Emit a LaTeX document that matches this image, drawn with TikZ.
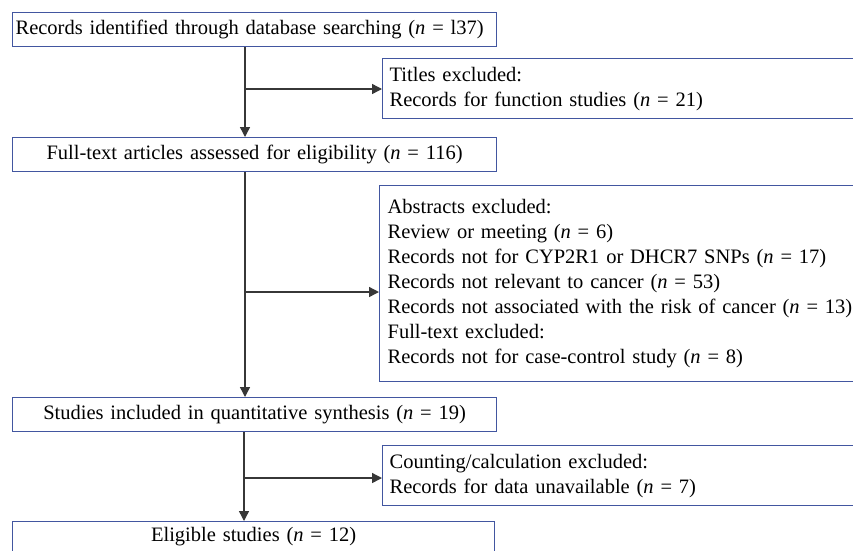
\documentclass[tikz,border=0pt]{standalone}
\usepackage{fontspec}
\setmainfont{Liberation Serif}
\usetikzlibrary{arrows.meta}
\definecolor{boxblue}{RGB}{66,86,160}
\definecolor{linegray}{RGB}{55,55,55}
\newcommand{\mysize}{\fontsize{20.5}{25}\selectfont}
\tikzset{
  lbox/.style={draw=boxblue, line width=1.2pt, rectangle, inner xsep=3pt, inner ysep=0pt,
    text width=478pt, minimum height=34pt, anchor=north west, font=\mysize, align=center},
  rbox/.style={draw=boxblue, line width=1.2pt, rectangle, inner xsep=7pt, inner ysep=0pt,
    text width=490pt, anchor=north west, font=\mysize, align=left},
  conn/.style={draw=linegray, line width=1.4pt},
  arr/.style={conn, -{Triangle[length=10pt,width=10pt]}}
}
\begin{document}
\begin{tikzpicture}[x=1pt,y=-1pt]
\useasboundingbox (0,0) rectangle (853,550);
\clip (0,0) rectangle (853,550);
\fill[white] (0,0) rectangle (853,550);

\node[lbox, align=left] (b1) at (12,12) {Records identified through database searching (\textit{n} = l37)};
\node[rbox, minimum height=60pt] (ti) at (382,58) {Titles excluded:\\Records for function studies (\textit{n} = 21)};
\node[lbox] (b2) at (12,137) {Full-text articles assessed for eligibility (\textit{n} = 116)};
\node[rbox, inner xsep=8pt, minimum height=196pt] (ab) at (379,185) {Abstracts excluded:\\Review or meeting (\textit{n} = 6)\\Records not for CYP2R1 or DHCR7 SNPs (\textit{n} = 17)\\Records not relevant to cancer (\textit{n} = 53)\\Records not associated with the risk of cancer (\textit{n} = 13)\\Full-text excluded:\\Records not for case-control study (\textit{n} = 8)};
\node[lbox] (b3) at (12,397) {Studies included in quantitative synthesis (\textit{n} = 19)};
\node[rbox, minimum height=60pt] (co) at (382,445) {Counting/calculation excluded:\\Records for data unavailable (\textit{n} = 7)};
\node[lbox, text width=476pt, minimum height=30pt] (b4) at (12,521) {Eligible studies (\textit{n} = 12)};

\coordinate (ta) at (245,0);
\coordinate (tb) at (244,0);
\coordinate (j1) at (245,89);
\coordinate (j2) at (245,292);
\coordinate (j3) at (244,478);

\draw[arr] (b1.south -| ta) -- (b2.north -| ta);
\draw[arr] (j1) -- (j1 -| ti.west);
\draw[arr] (b2.south -| ta) -- (b3.north -| ta);
\draw[arr] (j2) -- (j2 -| ab.west);
\draw[arr] (b3.south -| tb) -- (b4.north -| tb);
\draw[arr] (j3) -- (j3 -| co.west);
\end{tikzpicture}
\end{document}
